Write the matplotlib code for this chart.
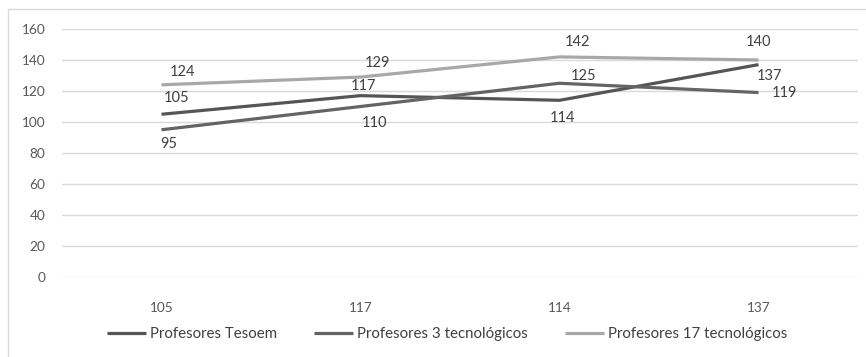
import matplotlib.pyplot as plt
from matplotlib.patches import Rectangle

plt.rcParams["font.family"] = ["Lato", "DejaVu Sans"]

categories = ["105", "117", "114", "137"]
series_names = [
    "Profesores Tesoem",
    "Profesores 3 tecnológicos",
    "Profesores 17 tecnológicos",
]
tesoem = [105, 117, 114, 137]
tres_tec = [95, 110, 125, 119]
diecisiete_tec = [124, 129, 142, 140]
y_ticks = [0, 20, 40, 60, 80, 100, 120, 140, 160]

COLORS = ["#555555", "#646464", "#a8a8a8"]
TEXT_COLOR = "#404040"

# label offsets in points (dx, dy) for each series / point
LABEL_OFFSETS = [
    [(11, 12), (2, 7), (2, -13), (8, -8)],
    [(5, -10), (10, -12), (17, 5), (19, 0)],
    [(15, 9), (12, 10), (13, 11), (0, 13)],
]

fig = plt.figure(figsize=(8.66, 3.57), dpi=100)
ax = fig.add_axes([62 / 866, 1 - 277 / 357, 796 / 866, 248 / 357])

x = list(range(len(categories)))
all_series = [tesoem, tres_tec, diecisiete_tec]

for values, name, color, offsets in zip(all_series, series_names, COLORS, LABEL_OFFSETS):
    ax.plot(x, values, color=color, linewidth=2.3, label=name,
            solid_capstyle="butt", zorder=3)
    for xi, v, (dx, dy) in zip(x, values, offsets):
        ax.annotate(str(v), (xi, v), xytext=(dx, dy), textcoords="offset points",
                    ha="center", va="center", fontsize=10.5, color=TEXT_COLOR)

ax.set_xlim(-0.5, len(categories) - 0.5)
ax.set_ylim(0, 160)
ax.set_xticks(x)
ax.set_xticklabels(categories)
ax.set_yticks(y_ticks)
ax.tick_params(axis="both", length=0, labelsize=9.8, labelcolor="#595959")
ax.tick_params(axis="x", pad=18)
ax.tick_params(axis="y", pad=12)
ax.grid(True, axis="y", color="#d9d9d9", linewidth=1)
ax.set_axisbelow(True)
for spine in ax.spines.values():
    spine.set_visible(False)

fig.legend(loc="center", bbox_to_anchor=(447 / 866, 1 - 334 / 357), ncol=3,
           frameon=False, fontsize=10.8, handlelength=2.6, handletextpad=0.25,
           columnspacing=2.5, labelcolor="#404040")

# chart frame
fig.patches.append(Rectangle((8 / 866, -0.1), 1.2, 1 - 9 / 357 + 0.1,
                             transform=fig.transFigure, fill=False,
                             edgecolor="#d9d9d9", linewidth=1))

fig.savefig("out.png", dpi=100)
